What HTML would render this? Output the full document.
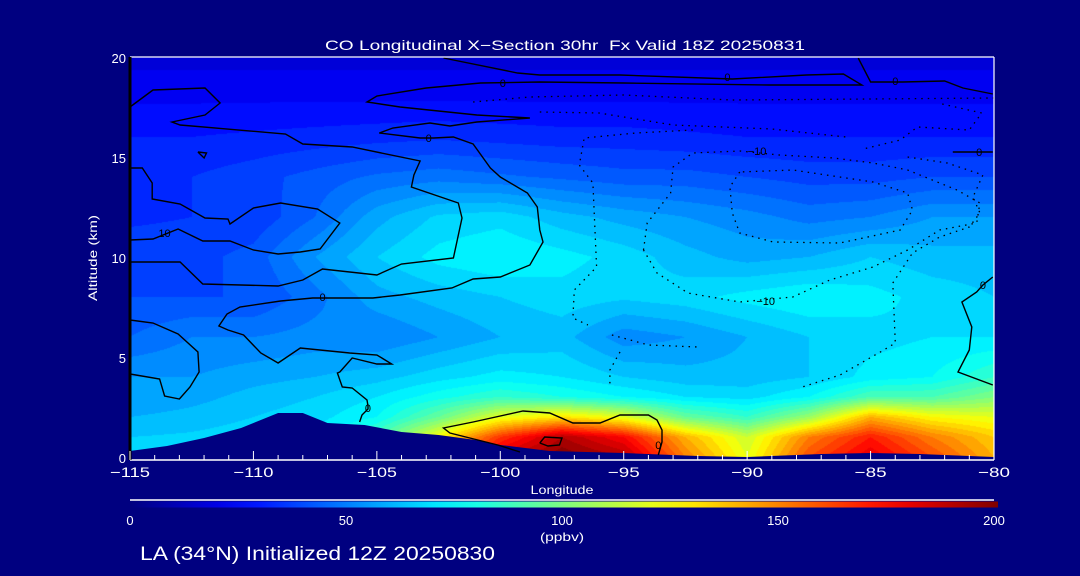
<!DOCTYPE html>
<html><head><meta charset="utf-8">
<style>
html,body{margin:0;padding:0;background:#000080;}
#wrap{position:relative;width:1080px;height:576px;overflow:hidden;background:#000080;font-family:"Liberation Sans",sans-serif;}
canvas,svg{position:absolute;left:0;top:0;}
</style></head>
<body>
<div id="wrap">
<canvas id="field" width="1080" height="576"></canvas>
<svg id="ov" width="1080" height="576"></svg>
</div>
<script>
// ---- data ----
const lons = [-115,-112.5,-110,-107.5,-105,-102.5,-100,-97.5,-95,-92.5,-90,-87.5,-85,-82.5,-80];
const alts = [0,1,2,3,4,6,8,10,12,14,16,18,20];
const row0  = [68,68,70,72,100,140,185,200,190,150,120,160,180,160,140];
const row1  = [65,66,68,70,90,125,165,190,175,140,115,150,170,150,135];
const row2  = [60,62,65,68,75,95,120,130,120,95,85,105,140,125,120];
const row3  = [55,58,62,65,70,78,85,80,75,70,68,75,90,90,100];
const row4  = [55,55,58,60,63,68,72,70,65,62,62,65,72,75,85];
const row6  = [45,50,50,52,50,55,60,62,52,55,60,65,68,70,70];
const row8  = [40,40,40,48,58,62,65,68,66,68,72,75,72,68,65];
const row10 = [38,38,42,55,65,72,75,72,68,62,58,60,65,62,62];
const row12 = [34,35,36,45,58,66,68,62,58,55,52,48,50,55,55];
const row14 = [34,35,38,42,46,48,46,44,42,42,40,38,38,40,40];
const row16 = [30,30,31,32,33,34,33,32,32,31,30,30,30,30,30];
const row18 = [24,24,24,24,24,24,24,24,24,24,24,24,24,24,24];
const row20 = [18,18,18,18,18,18,18,18,18,18,18,18,18,18,18];
const grid = [row0,row1,row2,row3,row4,row6,row8,row10,row12,row14,row16,row18,row20];

const terrainLon = [-115,-113.5,-112,-110.5,-109,-108,-107,-105.5,-104,-102.5,-101,-100,-98,-95,-92,-90,-87,-85,-83,-80];
const terrainAlt = [0.3,0.55,0.95,1.45,2.2,2.2,1.7,1.6,1.25,1.1,0.85,0.6,0.3,0.2,0.05,0,0.15,0.2,0.15,0];

const xTicks = [-115,-110,-105,-100,-95,-90,-85,-80];
const yTicks = [0,5,10,15,20];
const cbTicks = [0,50,100,150,200];

// contours: [lon, alt] pairs
const cA = [[-115,17.5],[-114.07,18.35],[-111.96,18.45],[-111.35,17.7],[-111.96,17.1],[-113.3,16.75],[-112.97,16.6],[-108.7,16.15],[-108.0,15.65],[-106.0,15.5],[-103.25,14.8],[-103.5,14.1],[-103.6,13.5],[-101.7,12.7],[-101.55,11.95],[-101.9,9.95],[-104.0,9.65],[-105.0,9.1],[-107.2,9.4],[-108.0,8.85],[-109.0,8.55],[-112.05,8.65],[-112.97,9.75],[-115,9.75]];
const cB = [[-115,14.45],[-114.5,14.45],[-114.1,13.7],[-114.1,12.9],[-112.97,12.65],[-111.96,11.95],[-111.03,11.9],[-110.95,11.65],[-110.0,12.45],[-108.9,12.7],[-107.4,12.4],[-106.5,11.7],[-107.3,10.4],[-108.1,10.25],[-109.0,10.15],[-110.0,10.35],[-110.95,10.8],[-112.05,10.8],[-113.05,11.4],[-114.07,10.9],[-115,10.85]];
const cC = [[-105.7,1.75],[-105.6,2.1],[-105.36,2.4],[-105.36,2.55],[-105.4,2.85],[-106.0,3.45],[-106.4,3.5],[-106.6,4.2],[-106.5,4.25],[-106.0,4.95],[-105.0,4.65],[-104.4,4.65],[-105.0,5.1],[-106.1,5.2],[-108.1,5.45],[-109.0,4.7],[-109.7,5.2],[-110.4,6.1],[-111.03,6.35],[-111.4,6.55],[-111.07,7.15],[-110.55,7.5],[-108.9,7.8],[-107.6,7.95],[-106.9,7.95],[-105.16,7.95],[-104.06,8.1],[-101.96,8.45],[-101.1,8.9],[-100.0,9.0],[-98.8,9.6],[-98.27,10.75],[-98.4,11.35],[-98.5,12.5],[-98.9,13.2],[-100.0,14.0],[-100.4,14.45],[-101.1,15.65],[-101.9,16.0],[-102.7,15.95],[-103.25,15.95],[-104.9,16.2],[-104.35,16.45],[-102.85,16.7],[-102.04,16.55],[-100.95,16.75],[-98.8,16.95],[-100.95,17.1],[-104.06,17.5],[-105.4,17.75],[-105.0,18.05],[-103.0,18.45],[-100.8,18.7],[-98.4,18.75],[-95.0,18.7],[-89.1,18.6],[-85.35,18.6],[-86.1,19.15],[-87.6,19.1],[-90.6,18.9],[-95.15,19.1],[-98.4,19.1],[-99.3,19.2],[-102.3,19.95]];
const cD = [[-85.5,19.95],[-85.0,18.75],[-84.3,18.75],[-83.7,18.75],[-82.0,18.8],[-81.26,18.45],[-80.05,18.15]];
const cE = [[-81.67,15.25],[-80.05,15.25]];
const cF = [[-80.05,9.0],[-80.45,8.6],[-80.7,8.25],[-81.3,7.75],[-80.9,6.5],[-81.0,5.35],[-81.46,4.25],[-80.05,3.6]];
const cG = [[-115,6.85],[-114.07,6.7],[-113.05,6.15],[-112.25,5.25],[-112.2,4.25],[-112.57,3.5],[-113.0,2.9],[-113.6,3.05],[-113.8,3.9],[-115,4.15]];
const cH = [[-99.2,0.25],[-100.1,0.6],[-102.04,1.2],[-102.3,1.45],[-101.1,1.75],[-99.08,2.3],[-98.0,2.2],[-97.06,1.7],[-95.96,1.7],[-95.15,2.1],[-94.0,2.1],[-93.65,1.85],[-93.45,1.35],[-93.45,0.75],[-93.6,0.1]];
const cI = [[-98.4,0.7],[-98.2,1.0],[-97.5,0.95],[-97.6,0.6],[-98.07,0.55],[-98.4,0.7]];
const cJ = [[-112.25,15.25],[-111.9,15.2],[-112.0,14.95],[-112.25,15.25]];
const d1 = [[-94.2,10.35],[-94.05,11.7],[-93.1,13.2],[-93.0,14.5],[-92.2,15.2],[-90.3,15.3],[-88.7,15.1],[-86.5,14.95],[-84.9,14.7],[-83.5,14.35],[-81.5,13.35],[-80.57,12.7],[-80.7,11.7],[-82.2,11.35],[-83.5,10.35],[-84.9,9.5],[-86.65,8.85],[-88.15,8.0],[-90.3,7.75],[-92.4,8.2],[-93.65,9.2],[-94.2,10.35]];
const d2 = [[-90.3,14.25],[-90.7,13.5],[-90.6,12.2],[-90.3,11.2],[-88.95,10.75],[-86.24,10.7],[-83.8,11.35],[-83.3,12.35],[-83.5,13.2],[-84.9,13.75],[-88.15,14.35],[-90.3,14.25]];
const d3 = [[-82.1,17.65],[-80.5,17.2],[-81.0,16.35],[-83.1,16.5],[-83.8,15.85],[-85.3,15.4]];
const d4 = [[-83.5,15.0],[-81.9,14.7],[-80.45,14.1],[-80.85,13.0],[-80.57,12.2],[-81.0,11.5],[-82.2,11.0],[-83.3,10.2],[-84.1,8.7],[-84.0,5.7],[-84.6,5.25],[-86.24,4.1],[-87.9,3.45]];
const d5 = [[-92.2,16.35],[-94.5,16.2],[-96.6,15.95],[-96.8,14.6],[-96.25,13.7],[-96.1,9.5],[-97.0,8.35],[-97.06,6.95],[-96.45,6.6]];
const d6 = [[-95.48,6.1],[-94.0,5.6],[-92.0,5.5]];
const d7 = [[-95.15,5.25],[-95.56,4.35],[-95.56,3.5]];
const d8 = [[-101.1,17.75],[-98.8,18.0],[-95.0,18.1],[-90.6,17.85],[-85.0,17.9],[-80.0,17.95]];
const d9 = [[-98.4,17.25],[-96.0,17.2],[-93.0,16.6],[-89.0,16.4],[-86.0,16.0]];
const solidContours = [cA,cB,cC,cD,cE,cF,cG,cH,cI,cJ];
const dottedContours = [d1,d2,d3,d4,d5,d6,d7,d8,d9];
const labels = [["10",-113.6,11.2],["0",-107.2,8.0],["0",-102.9,15.95],["0",-99.9,18.7],["0",-90.8,19.0],["0",-84.0,18.8],["0",-80.6,15.25],["0",-80.45,8.6],["0",-105.36,2.45],["0",-93.6,0.6],["\u221210",-89.6,15.3],["\u221210",-89.25,7.8]];

// ---- axes ----
const X0=130,X1=994,Y0=457,Y20=57,YB=460;
const xs = lon => X0 + (lon+115)/35*(X1-X0);
const ys = a => Y0 - a/20*(Y0-Y20);
const lonOf = x => -115 + (x-X0)/(X1-X0)*35;
const altOf = y => (Y0-y)/(Y0-Y20)*20;

function jet(t){
  t=Math.max(0,Math.min(1,t));
  const f=(a)=>Math.max(0,Math.min(1,a));
  const r=f(1.5-Math.abs(4*t-3)), g=f(1.5-Math.abs(4*t-2)), b=f(1.5-Math.abs(4*t-1));
  return [r*255|0,g*255|0,b*255|0];
}
function sample(lon,alt){
  let i=0; while(i<lons.length-2 && lon>lons[i+1]) i++;
  let j=0; while(j<alts.length-2 && alt>alts[j+1]) j++;
  const tx=Math.max(0,Math.min(1,(lon-lons[i])/(lons[i+1]-lons[i])));
  const ty=Math.max(0,Math.min(1,(alt-alts[j])/(alts[j+1]-alts[j])));
  const a=grid[j][i],b=grid[j][i+1],c=grid[j+1][i],d=grid[j+1][i+1];
  return (a*(1-tx)+b*tx)*(1-ty)+(c*(1-tx)+d*tx)*ty;
}
const cv=document.getElementById('field'),ctx=cv.getContext('2d');
ctx.fillStyle='#000080';ctx.fillRect(0,0,1080,576);
const img=ctx.createImageData(X1-X0,YB-Y20);
for(let py=0;py<YB-Y20;py++){
  const alt=Math.max(0,altOf(Y20+py+0.5));
  for(let px=0;px<X1-X0;px++){
    let v=sample(lonOf(X0+px+0.5),alt);
    v=Math.floor(v/5)*5+2.5;
    const c=jet(v/200);const k=(py*(X1-X0)+px)*4;
    img.data[k]=c[0];img.data[k+1]=c[1];img.data[k+2]=c[2];img.data[k+3]=255;
  }
}
ctx.putImageData(img,X0,Y20);

// ---- svg overlay ----
const NS='http://www.w3.org/2000/svg',svg=document.getElementById('ov');
function el(tag,attrs,parent){const e=document.createElementNS(NS,tag);for(const k in attrs)e.setAttribute(k,attrs[k]);(parent||svg).appendChild(e);return e;}
function txt(s,x,y,size,anchor,parent,len){const a={x:x,y:y,fill:'#fff','font-size':size,'text-anchor':anchor||'middle','font-family':'Liberation Sans, sans-serif'};if(len){a.textLength=len;a.lengthAdjust='spacingAndGlyphs';}const t=el('text',a,parent);t.textContent=s;return t;}

let tp='M'+X0+','+YB;
terrainLon.forEach((l,i)=>{tp+=' L'+xs(l).toFixed(1)+','+ys(terrainAlt[i]).toFixed(1);});
tp+=' L'+X1+','+YB+' Z';
const terr=el('path',{d:tp,fill:'#000080'});



const cg=el('g',{});


solidContours.forEach(c=>{
  const p=el('polyline',{points:c.map(q=>xs(q[0]).toFixed(1)+','+ys(q[1]).toFixed(1)).join(' '),fill:'none',stroke:'#000','stroke-width':1.4},cg);
  
  
});
dottedContours.forEach(c=>{
  const p=el('polyline',{points:c.map(q=>xs(q[0]).toFixed(1)+','+ys(q[1]).toFixed(1)).join(' '),fill:'none',stroke:'#000','stroke-width':1.3,'stroke-dasharray':'1.5 5'},cg);
  
  
});
labels.forEach(L=>{
  const t=el('text',{x:xs(L[1]),y:ys(L[2])+4,fill:'#000','font-size':11,'text-anchor':'middle','font-family':'Liberation Sans, sans-serif'},cg);
  t.textContent=L[0];
  
  
});

const fr=el('g',{});


el('line',{x1:X0,y1:Y20,x2:X1,y2:Y20,stroke:'#fff','stroke-width':1.2},fr);
el('line',{x1:X1,y1:Y20,x2:X1,y2:YB,stroke:'#fff','stroke-width':1.2},fr);
el('line',{x1:X0,y1:YB,x2:X1,y2:YB,stroke:'#fff','stroke-width':1.4},fr);
el('line',{x1:X0,y1:Y20,x2:X0,y2:YB,stroke:'#000','stroke-width':3},fr);

const xa=el('g',{});


for(let l=-115;l<=-80;l++){
  const major=(l%5===0);
  el('line',{x1:xs(l),y1:YB,x2:xs(l),y2:YB-(major?9:5),stroke:'#fff','stroke-width':1},xa);
}
xTicks.forEach(l=>{const t=txt(String(l).replace('-','\u2212'),xs(l),477,14,'middle',xa,String(l).length>3?40:32);
  
  });
const xt=txt('Longitude',562,494,12,'middle',xa,63);



const ya=el('g',{});


yTicks.forEach(a=>{const t=txt(String(a),126,ys(a)+6,13,'end',ya);
  
  });
const yt=el('text',{x:0,y:0,fill:'#fff','font-size':12,'text-anchor':'middle','font-family':'Liberation Sans, sans-serif',textLength:86,lengthAdjust:'spacingAndGlyphs',transform:'translate(97,258) rotate(-90)'},ya);
yt.textContent='Altitude (km)';



const tt=txt('CO Longitudinal X\u2212Section 30hr\u00A0 Fx Valid 18Z 20250831',565,50,14,'middle',null,480);



const cb=el('g',{});


const defs=el('defs',{});
const lg=el('linearGradient',{id:'jetg',x1:0,y1:0,x2:1,y2:0},defs);
for(let i=0;i<=20;i++){const c=jet(i/20);el('stop',{offset:i/20,'stop-color':'rgb('+c.join(',')+')'},lg);}
el('line',{x1:130,y1:500,x2:994,y2:500,stroke:'#fff','stroke-width':1.5},cb);
el('rect',{x:130,y:501.5,width:868,height:6,fill:'url(#jetg)'},cb);
const CB0=130,CB1=994;
cbTicks.forEach(v=>{const t=txt(String(v),CB0+v/200*(CB1-CB0),525,13,'middle',cb);
  
  });
const un=txt('(ppbv)',562,541,12,'middle',cb,44);



const ft=txt('LA (34\u00B0N) Initialized 12Z 20250830',140,560,19,'start',null,355);


</script>
</body></html>
